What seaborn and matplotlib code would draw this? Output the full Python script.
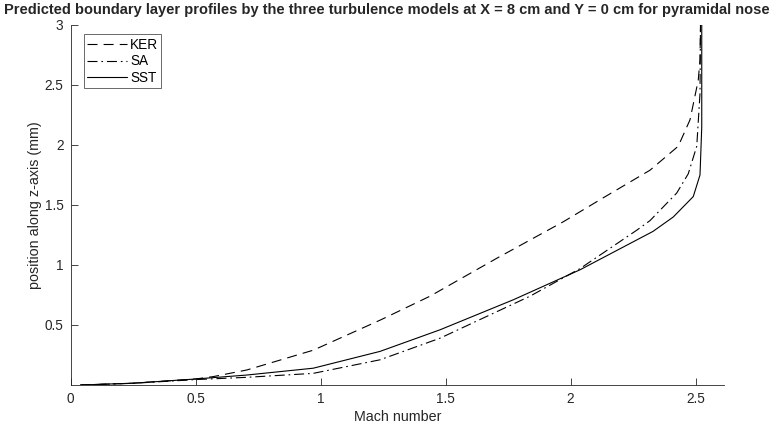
import matplotlib
matplotlib.use("Agg")
import matplotlib.pyplot as plt
import numpy as np
import pandas as pd
import seaborn as sns

# Boundary layer profiles: Mach number vs. height above the wall (mm)
ker_mach = [0.04, 0.25, 0.5, 0.571, 0.705, 0.971, 1.238, 1.438, 1.705, 1.971, 2.131, 2.318, 2.431, 2.478, 2.511, 2.518, 2.52]
ker_z    = [0.0, 0.015, 0.05, 0.07, 0.125, 0.29, 0.54, 0.74, 1.056, 1.36, 1.56, 1.79, 1.99, 2.21, 2.54, 2.71, 3.0]

sa_mach = [0.04, 0.25, 0.5, 0.705, 0.971, 1.238, 1.478, 1.838, 2.038, 2.265, 2.318, 2.425, 2.471, 2.505, 2.518, 2.52]
sa_z    = [0.0, 0.014, 0.045, 0.064, 0.097, 0.21, 0.39, 0.74, 0.97, 1.29, 1.37, 1.60, 1.76, 1.99, 2.43, 3.0]

sst_mach = [0.04, 0.25, 0.5, 0.705, 0.971, 1.238, 1.478, 1.771, 2.038, 2.33, 2.411, 2.491, 2.518, 2.525, 2.525]
sst_z    = [0.0, 0.015, 0.05, 0.083, 0.14, 0.28, 0.46, 0.71, 0.96, 1.28, 1.40, 1.57, 1.75, 2.15, 3.0]

models = ["KER", "SA", "SST"]
xticks = [0, 0.5, 1, 1.5, 2, 2.5]
yticks = [0.5, 1, 1.5, 2, 2.5, 3]

frames = []
for name, m, z in zip(models, [ker_mach, sa_mach, sst_mach], [ker_z, sa_z, sst_z]):
    frames.append(pd.DataFrame({"Mach": m, "z": z, "model": name}))
df = pd.concat(frames, ignore_index=True)

sns.set_theme(style="ticks")
plt.rcParams["font.family"] = ["Liberation Sans", "DejaVu Sans"]
axis_gray = "#262626"

fig = plt.figure(figsize=(7.74, 4.32), dpi=100)
ax = fig.add_axes([70.5 / 774, 47 / 432, (724 - 70.5) / 774, 360 / 432])

dashes = {"KER": (9, 5.5), "SA": (9, 3.5, 1.5, 3.5), "SST": ""}
sns.lineplot(data=df, x="Mach", y="z", hue="model", style="model",
             palette={k: "black" for k in models}, dashes=dashes,
             sort=False, estimator=None, linewidth=0.8, ax=ax)

ax.set_xlim(0, 2.614)
ax.set_ylim(0, 3)
ax.set_xticks(xticks)
ax.set_xticklabels([f"{t:g}" for t in xticks])
ax.set_yticks(yticks)
ax.set_yticklabels([f"{t:g}" for t in yticks])
ax.tick_params(direction="in", length=5, width=0.6, colors=axis_gray,
               labelsize=9.8, pad=5)
for side in ["top", "right"]:
    ax.spines[side].set_visible(False)
for side in ["left", "bottom"]:
    ax.spines[side].set_linewidth(0.6)
    ax.spines[side].set_color(axis_gray)

ax.set_xlabel("Mach number", fontsize=10.3, color=axis_gray, labelpad=3)
ax.set_ylabel("position along z-axis (mm)", fontsize=10.3, color=axis_gray, labelpad=2)

leg = ax.legend(loc="upper left", bbox_to_anchor=(0.016, 0.982), fontsize=9.8,
                frameon=True, fancybox=False, handlelength=2.9, handletextpad=0.25,
                borderpad=0.25, labelspacing=0.2, borderaxespad=0.2)
leg.get_frame().set_edgecolor(axis_gray)
leg.get_frame().set_linewidth(0.6)
for t in leg.get_texts():
    t.set_color("black")

fig.text(387 / 774, 1 - 10 / 432,
         "Predicted boundary layer profiles by the three turbulence models at X = 8 cm and Y = 0 cm for pyramidal nose",
         ha="center", va="center", fontsize=10.5, fontweight="bold")

fig.savefig("out.png", dpi=100)
